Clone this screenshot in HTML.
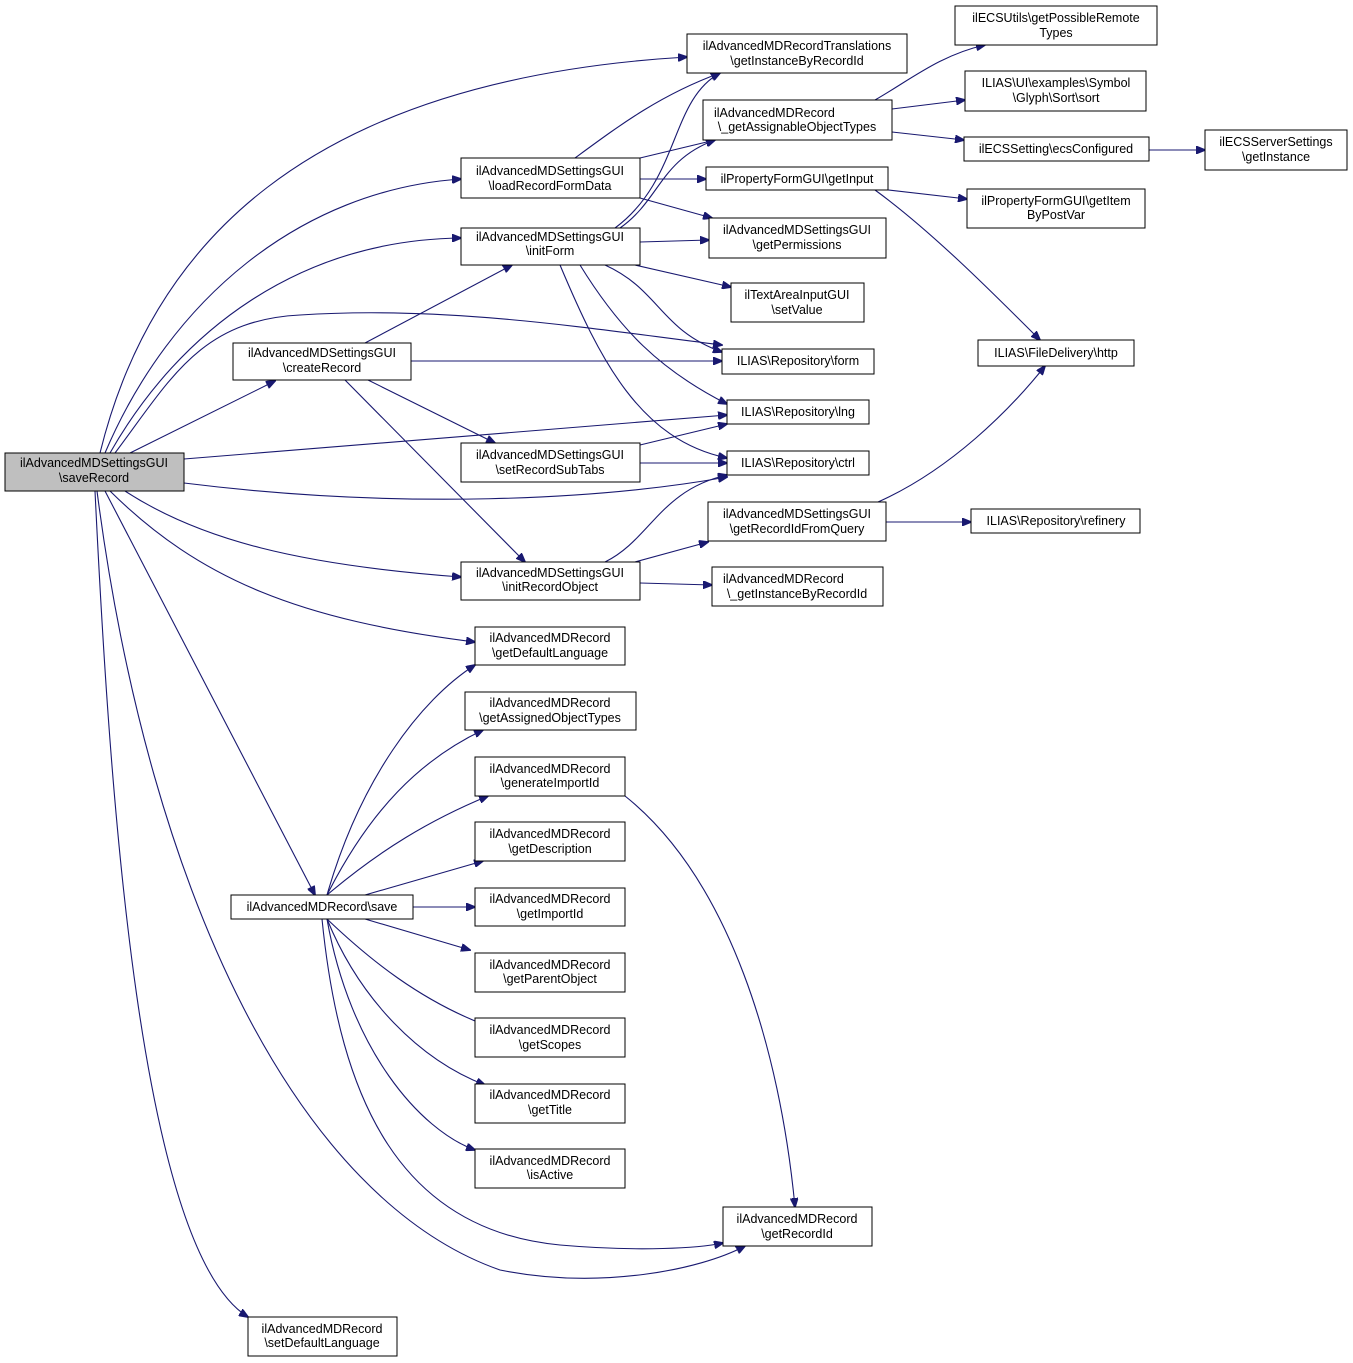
<!DOCTYPE html>
<html><head><meta charset="utf-8"><style>
html,body{margin:0;padding:0;background:#fff;}
svg{display:block;}
text{font-family:"Liberation Sans",sans-serif;font-size:12.5px;fill:#000;}
.n{fill:#fff;stroke:#000;stroke-width:1;}
.e{fill:none;stroke:#191970;stroke-width:1.1;}
</style></head><body>
<svg width="1353" height="1363" viewBox="0 0 1353 1363" xmlns="http://www.w3.org/2000/svg">
<defs><marker id="a" markerWidth="10" markerHeight="8" refX="9" refY="4" orient="auto" markerUnits="userSpaceOnUse"><path d="M0,0 L10,4 L0,8 z" fill="#191970" stroke="#191970"/></marker></defs>
<g class="e" marker-end="url(#a)">
<path d="M100,453 C150,250 300,80 687,57"/>
<path d="M105,453 C170,300 300,190 461,179"/>
<path d="M110,453 C180,330 300,240 461,238"/>
<path d="M115,453 C170,380 200,320 300,315 C450,305 600,330 722,345"/>
<path d="M130,453 L275,381"/>
<path d="M184,459 L727,415"/>
<path d="M184,483 C400,510 600,500 727,477"/>
<path d="M125,491 C200,540 300,565 461,577"/>
<path d="M110,491 C200,580 300,620 475,642"/>
<path d="M105,491 L315,895"/>
<path d="M97,491 C150,900 300,1200 500,1270 C600,1290 700,1270 745,1246"/>
<path d="M95,491 C110,800 140,1250 248,1317"/>
<path d="M365,343 L512,265"/>
<path d="M411,361 L722,361"/>
<path d="M368,380 L495,443"/>
<path d="M345,380 L525,562"/>
<path d="M575,158 C620,125 660,95 720,73"/>
<path d="M640,158 L715,140"/>
<path d="M640,179 L706,179"/>
<path d="M640,198 L712,218"/>
<path d="M615,228 C680,180 670,100 720,73"/>
<path d="M620,228 C660,200 660,160 715,140"/>
<path d="M640,242 L709,240"/>
<path d="M635,265 L731,287"/>
<path d="M605,265 C660,290 660,330 722,352"/>
<path d="M580,265 C620,330 660,370 727,404"/>
<path d="M560,265 C600,360 640,440 727,458"/>
<path d="M640,445 L727,424"/>
<path d="M640,463 L727,463"/>
<path d="M605,562 C650,540 660,490 727,475"/>
<path d="M635,562 L708,542"/>
<path d="M640,583 L712,585"/>
<path d="M875,100 C910,80 940,55 985,45"/>
<path d="M892,109 L965,100"/>
<path d="M892,132 L964,140"/>
<path d="M888,190 L967,199"/>
<path d="M875,190 C930,230 990,290 1040,340"/>
<path d="M1149,150 L1205,150"/>
<path d="M878,502 C950,470 1010,410 1045,366"/>
<path d="M886,522 L971,522"/>
<path d="M625,796 C730,880 780,1050 795,1207"/>
<path d="M327,895 C360,780 420,700 475,665"/>
<path d="M327,895 C370,810 420,760 483,730"/>
<path d="M327,895 C380,850 430,820 488,796"/>
<path d="M365,895 L483,861"/>
<path d="M413,907 L475,907"/>
<path d="M365,919 L470,950"/>
<path d="M327,919 C370,960 420,1000 485,1025"/>
<path d="M327,919 C360,1000 420,1060 485,1085"/>
<path d="M327,919 C350,1050 420,1130 475,1150"/>
<path d="M322,919 C340,1100 400,1230 560,1245 C640,1252 700,1248 723,1243"/>
</g>
<g>
<rect x="5" y="453" width="179" height="38" fill="#bfbfbf" stroke="#000"/>
<text x="94" y="467" text-anchor="middle">ilAdvancedMDSettingsGUI</text><text x="94" y="482" text-anchor="middle">\saveRecord</text>

<rect class="n" x="461" y="158" width="179" height="40"/><text x="550" y="175" text-anchor="middle">ilAdvancedMDSettingsGUI</text><text x="550" y="190" text-anchor="middle">\loadRecordFormData</text>
<rect class="n" x="461" y="228" width="179" height="37"/><text x="550" y="241" text-anchor="middle">ilAdvancedMDSettingsGUI</text><text x="550" y="255" text-anchor="middle">\initForm</text>
<rect class="n" x="233" y="343" width="178" height="37"/><text x="322" y="357" text-anchor="middle">ilAdvancedMDSettingsGUI</text><text x="322" y="372" text-anchor="middle">\createRecord</text>
<rect class="n" x="461" y="443" width="179" height="39"/><text x="550" y="459" text-anchor="middle">ilAdvancedMDSettingsGUI</text><text x="550" y="474" text-anchor="middle">\setRecordSubTabs</text>
<rect class="n" x="461" y="562" width="179" height="38"/><text x="550" y="577" text-anchor="middle">ilAdvancedMDSettingsGUI</text><text x="550" y="591" text-anchor="middle">\initRecordObject</text>
<rect class="n" x="475" y="627" width="150" height="38"/><text x="550" y="642" text-anchor="middle">ilAdvancedMDRecord</text><text x="550" y="657" text-anchor="middle">\getDefaultLanguage</text>
<rect class="n" x="465" y="692" width="171" height="38"/><text x="550" y="707" text-anchor="middle">ilAdvancedMDRecord</text><text x="550" y="722" text-anchor="middle">\getAssignedObjectTypes</text>
<rect class="n" x="475" y="757" width="150" height="39"/><text x="550" y="773" text-anchor="middle">ilAdvancedMDRecord</text><text x="550" y="787" text-anchor="middle">\generateImportId</text>
<rect class="n" x="475" y="822" width="150" height="39"/><text x="550" y="838" text-anchor="middle">ilAdvancedMDRecord</text><text x="550" y="853" text-anchor="middle">\getDescription</text>
<rect class="n" x="231" y="895" width="182" height="24"/><text x="322" y="911" text-anchor="middle">ilAdvancedMDRecord\save</text>
<rect class="n" x="475" y="888" width="150" height="38"/><text x="550" y="903" text-anchor="middle">ilAdvancedMDRecord</text><text x="550" y="918" text-anchor="middle">\getImportId</text>
<rect class="n" x="475" y="953" width="150" height="39"/><text x="550" y="969" text-anchor="middle">ilAdvancedMDRecord</text><text x="550" y="983" text-anchor="middle">\getParentObject</text>
<rect class="n" x="475" y="1018" width="150" height="39"/><text x="550" y="1034" text-anchor="middle">ilAdvancedMDRecord</text><text x="550" y="1049" text-anchor="middle">\getScopes</text>
<rect class="n" x="475" y="1084" width="150" height="39"/><text x="550" y="1099" text-anchor="middle">ilAdvancedMDRecord</text><text x="550" y="1114" text-anchor="middle">\getTitle</text>
<rect class="n" x="475" y="1149" width="150" height="39"/><text x="550" y="1165" text-anchor="middle">ilAdvancedMDRecord</text><text x="550" y="1179" text-anchor="middle">\isActive</text>
<rect class="n" x="248" y="1317" width="149" height="39"/><text x="322" y="1333" text-anchor="middle">ilAdvancedMDRecord</text><text x="322" y="1347" text-anchor="middle">\setDefaultLanguage</text>

<rect class="n" x="687" y="34" width="220" height="39"/><text x="797" y="50" text-anchor="middle">ilAdvancedMDRecordTranslations</text><text x="797" y="65" text-anchor="middle">\getInstanceByRecordId</text>
<rect class="n" x="703" y="100" width="189" height="40"/><text x="714" y="117">ilAdvancedMDRecord</text><text x="797" y="131" text-anchor="middle">\_getAssignableObjectTypes</text>
<rect class="n" x="706" y="167" width="182" height="23"/><text x="797" y="183" text-anchor="middle">ilPropertyFormGUI\getInput</text>
<rect class="n" x="709" y="218" width="177" height="40"/><text x="797" y="234" text-anchor="middle">ilAdvancedMDSettingsGUI</text><text x="797" y="249" text-anchor="middle">\getPermissions</text>
<rect class="n" x="731" y="283" width="133" height="39"/><text x="797" y="299" text-anchor="middle">ilTextAreaInputGUI</text><text x="797" y="314" text-anchor="middle">\setValue</text>
<rect class="n" x="722" y="349" width="152" height="25"/><text x="798" y="365" text-anchor="middle">ILIAS\Repository\form</text>
<rect class="n" x="727" y="400" width="142" height="24"/><text x="798" y="416" text-anchor="middle">ILIAS\Repository\lng</text>
<rect class="n" x="727" y="451" width="142" height="24"/><text x="798" y="467" text-anchor="middle">ILIAS\Repository\ctrl</text>
<rect class="n" x="708" y="502" width="178" height="39"/><text x="797" y="518" text-anchor="middle">ilAdvancedMDSettingsGUI</text><text x="797" y="533" text-anchor="middle">\getRecordIdFromQuery</text>
<rect class="n" x="712" y="567" width="171" height="39"/><text x="723" y="583">ilAdvancedMDRecord</text><text x="797" y="598" text-anchor="middle">\_getInstanceByRecordId</text>
<rect class="n" x="723" y="1207" width="149" height="39"/><text x="797" y="1223" text-anchor="middle">ilAdvancedMDRecord</text><text x="797" y="1238" text-anchor="middle">\getRecordId</text>

<rect class="n" x="955" y="6" width="202" height="39"/><text x="1056" y="22" text-anchor="middle">ilECSUtils\getPossibleRemote</text><text x="1056" y="37" text-anchor="middle">Types</text>
<rect class="n" x="965" y="71" width="181" height="40"/><text x="1056" y="87" text-anchor="middle">ILIAS\UI\examples\Symbol</text><text x="1056" y="102" text-anchor="middle">\Glyph\Sort\sort</text>
<rect class="n" x="964" y="137" width="185" height="24"/><text x="1056" y="153" text-anchor="middle">ilECSSetting\ecsConfigured</text>
<rect class="n" x="1205" y="130" width="142" height="40"/><text x="1276" y="146" text-anchor="middle">ilECSServerSettings</text><text x="1276" y="161" text-anchor="middle">\getInstance</text>
<rect class="n" x="967" y="189" width="178" height="39"/><text x="1056" y="205" text-anchor="middle">ilPropertyFormGUI\getItem</text><text x="1056" y="219" text-anchor="middle">ByPostVar</text>
<rect class="n" x="978" y="340" width="156" height="26"/><text x="1056" y="357" text-anchor="middle">ILIAS\FileDelivery\http</text>
<rect class="n" x="971" y="509" width="169" height="24"/><text x="1056" y="525" text-anchor="middle">ILIAS\Repository\refinery</text>
</g>
</svg>
</body></html>
